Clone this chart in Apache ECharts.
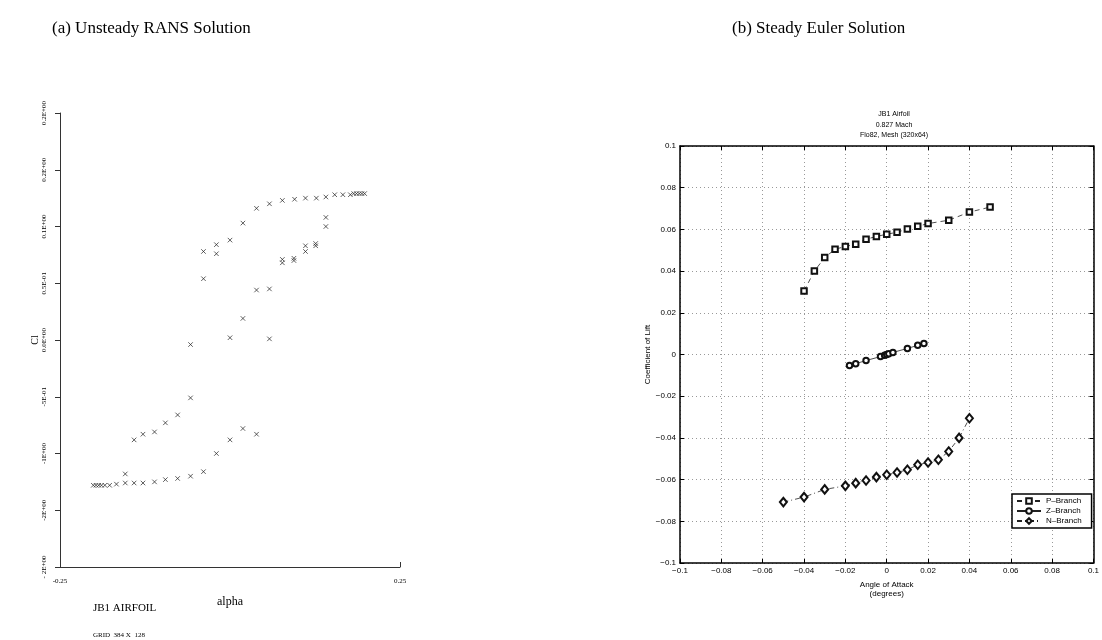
<!DOCTYPE html>
<html>
<head>
<meta charset="utf-8">
<script src="https://cdn.jsdelivr.net/npm/echarts@6/dist/echarts.min.js"></script>
<style>
  body { margin: 0; background: #fff; }
  #chart { width: 1102px; height: 640px; }
</style>
</head>
<body>
<div id="chart"></div>
<script>
// (a) unsteady RANS: alpha vs Cl
const ransAlpha = [
  0.039, 0.058, 0.077, 0.095, 0.111, 0.127, 0.141, 0.154, 0.166, 0.177, 0.182, 0.186, 0.190, 0.194, 0.198,
  0.019, 0.000, -0.020, -0.020, -0.039, -0.039, -0.058, 0.000, 0.058,
  -0.058, -0.077, -0.095, -0.111, -0.128, -0.141,
  -0.039, -0.058, -0.077, -0.095, -0.111, -0.128, -0.141, -0.154, -0.154, -0.167, -0.177, -0.184, -0.189, -0.193, -0.197, -0.201,
  -0.020, 0.000, 0.019, 0.039, 0.019, 0.039, 0.058, 0.077, 0.077, 0.094, 0.094, 0.111, 0.111, 0.126, 0.126, 0.141, 0.141
];
const ransCl = [
  0.116, 0.120, 0.123, 0.124, 0.125, 0.125, 0.126, 0.128, 0.128, 0.128, 0.129, 0.129, 0.129, 0.129, 0.129,
  0.103, 0.088, 0.084, 0.076, 0.078, 0.054, -0.004, 0.002, 0.001,
  -0.051, -0.066, -0.073, -0.081, -0.083, -0.088,
  -0.116, -0.120, -0.122, -0.123, -0.125, -0.126, -0.126, -0.126, -0.118, -0.127, -0.128, -0.128, -0.128, -0.128, -0.128, -0.128,
  -0.100, -0.088, -0.078, -0.083, 0.019, 0.044, 0.045, 0.071, 0.068, 0.072, 0.070, 0.083, 0.078, 0.085, 0.083, 0.108, 0.100
];
const ransXTicks = [-0.25, 0.25];
const ransYLabels = ['- 2E+00', '-2E+00', '-1E+00', '-5E-01', '0.0E+00', '0.5E-01', '0.1E+00', '0.2E+00', '0.2E+00'];

// (b) steady Euler branches
const pAlpha = [-0.04, -0.035, -0.03, -0.025, -0.02, -0.015, -0.01, -0.005, 0, 0.005, 0.01, 0.015, 0.02, 0.03, 0.04, 0.05];
const pCl = [0.0305, 0.040, 0.0465, 0.0505, 0.0518, 0.0529, 0.0553, 0.0566, 0.0577, 0.0586, 0.0602, 0.0615, 0.0628, 0.0644, 0.0683, 0.0707];
const zAlpha = [-0.018, -0.015, -0.01, -0.003, -0.001, 0, 0.001, 0.003, 0.01, 0.015, 0.018];
const zCl = [-0.0053, -0.0044, -0.0029, -0.001, -0.0003, 0, 0.0003, 0.001, 0.0029, 0.0044, 0.0053];
const nAlpha = [-0.05, -0.04, -0.03, -0.02, -0.015, -0.01, -0.005, 0, 0.005, 0.01, 0.015, 0.02, 0.025, 0.03, 0.035, 0.04];
const nCl = [-0.0708, -0.0684, -0.0647, -0.063, -0.0617, -0.0604, -0.0588, -0.0577, -0.0566, -0.0553, -0.0529, -0.0518, -0.0505, -0.0465, -0.040, -0.0306];

const zip = (xs, ys) => xs.map((x, i) => [x, ys[i]]);
const serif = '"Liberation Serif", "DejaVu Serif", serif';
const sans = '"Liberation Sans", Arial, sans-serif';
const mFmt = (v) => (Math.abs(v) < 1e-9 ? '0' : String(+v.toFixed(2)).replace('-', '\u2212'));

const chart = echarts.init(document.getElementById('chart'));

// matlab style box axes for panel (b)
const boxLine = { show: true, onZero: false, lineStyle: { color: '#000', width: 1.5 } };
const gridDots = { show: true, lineStyle: { color: '#999', width: 1, type: [1, 3] } };
const capStyle = { fontFamily: serif, fontSize: 17, fontWeight: 'normal', color: '#000' };

chart.setOption({
  animation: false,
  title: [
    { text: '(a) Unsteady RANS Solution', left: 47, top: 15, textStyle: capStyle },
    { text: '(b) Steady Euler Solution', left: 727, top: 15, textStyle: capStyle },
    { text: 'JB1 AIRFOIL', left: 88, top: 598, textStyle: { fontFamily: serif, fontSize: 11, fontWeight: 'normal', color: '#000' } },
    { text: 'GRID  384 X  128', left: 88, top: 627, textStyle: { fontFamily: serif, fontSize: 7, fontWeight: 'normal', color: '#000' } },
    {
      text: 'JB1 Airfoil\n0.827 Mach\nFlo82, Mesh (320x64)', left: 889, top: 104, textAlign: 'center',
      textStyle: { fontFamily: sans, fontSize: 7, fontWeight: 'normal', color: '#000', lineHeight: 10.5, align: 'center' }
    }
  ],
  grid: [
    { left: 60, top: 113, width: 340, height: 454 },
    { left: 680, top: 146, width: 418, height: 417 }
  ],
  legend: {
    data: ['P\u2013Branch', 'Z\u2013Branch', 'N\u2013Branch'],
    orient: 'vertical', left: 1012, top: 494,
    backgroundColor: '#fff', borderColor: '#000', borderWidth: 1.5, borderRadius: 0,
    padding: [3, 10, 3, 4], itemGap: 2, itemWidth: 24, itemHeight: 7,
    textStyle: { fontFamily: sans, fontSize: 8, color: '#000' }
  },
  xAxis: [
    {
      gridIndex: 0, type: 'value', min: -0.25, max: 0.25,
      name: 'alpha', nameLocation: 'middle', nameGap: 29,
      nameTextStyle: { fontFamily: serif, fontSize: 12, color: '#000' },
      axisLine: { onZero: false, lineStyle: { color: '#333', width: 1 } },
      axisTick: { show: true, inside: true, length: 5, customValues: ransXTicks, lineStyle: { color: '#333' } },
      axisLabel: { customValues: ransXTicks, margin: 11, fontFamily: serif, fontSize: 7, color: '#000' },
      splitLine: { show: false }
    },
    {
      gridIndex: 1, type: 'value', min: -0.1, max: 0.1, interval: 0.02,
      name: 'Angle of Attack\n(degrees)', nameLocation: 'middle', nameGap: 13,
      nameTextStyle: { fontFamily: sans, fontSize: 8, color: '#000', lineHeight: 9.5, verticalAlign: 'top' },
      axisLine: boxLine,
      axisTick: { inside: true, length: 4, lineStyle: { color: '#000' } },
      axisLabel: { formatter: mFmt, margin: 4, fontFamily: sans, fontSize: 8, color: '#000' },
      splitLine: gridDots
    },
    {
      gridIndex: 1, type: 'value', position: 'top', min: -0.1, max: 0.1, interval: 0.02,
      axisLine: boxLine,
      axisTick: { inside: true, length: 4, lineStyle: { color: '#000' } },
      axisLabel: { show: false }, splitLine: { show: false }
    }
  ],
  yAxis: [
    {
      gridIndex: 0, type: 'value', min: -0.2, max: 0.2, interval: 0.05,
      name: 'Cl', nameLocation: 'middle', nameGap: 17, nameRotate: 90,
      nameTextStyle: { fontFamily: serif, fontSize: 10, color: '#000' },
      axisLine: { onZero: false, lineStyle: { color: '#333', width: 1 } },
      axisTick: { show: true, length: 5, lineStyle: { color: '#333' } },
      axisLabel: {
        rotate: 90, margin: 12, fontFamily: serif, fontSize: 7, color: '#000',
        formatter: (v) => ransYLabels[Math.round((v + 0.2) / 0.05)]
      },
      splitLine: { show: false }
    },
    {
      gridIndex: 1, type: 'value', min: -0.1, max: 0.1, interval: 0.02,
      name: 'Coefficient of Lift', nameLocation: 'middle', nameGap: 26,
      nameTextStyle: { fontFamily: sans, fontSize: 8, color: '#000' },
      axisLine: boxLine,
      axisTick: { inside: true, length: 4, lineStyle: { color: '#000' } },
      axisLabel: { formatter: mFmt, margin: 4, fontFamily: sans, fontSize: 8, color: '#000' },
      splitLine: gridDots
    },
    {
      gridIndex: 1, type: 'value', position: 'right', min: -0.1, max: 0.1, interval: 0.02,
      axisLine: boxLine,
      axisTick: { inside: true, length: 4, lineStyle: { color: '#000' } },
      axisLabel: { show: false }, splitLine: { show: false }
    }
  ],
  series: [
    {
      type: 'scatter', xAxisIndex: 0, yAxisIndex: 0,
      symbol: 'path://M0,0L10,10M10,0L0,10', symbolSize: 4.5,
      itemStyle: { color: 'none', borderColor: '#222', borderWidth: 0.9 },
      data: zip(ransAlpha, ransCl)
    },
    {
      name: 'P\u2013Branch', type: 'line', xAxisIndex: 1, yAxisIndex: 1,
      symbol: 'emptyRect', symbolSize: 5.5,
      lineStyle: { color: '#222', width: 0.8, type: [5, 4] },
      itemStyle: { color: '#111', borderWidth: 0.7 },
      data: zip(pAlpha, pCl)
    },
    {
      name: 'Z\u2013Branch', type: 'line', xAxisIndex: 1, yAxisIndex: 1,
      symbol: 'emptyCircle', symbolSize: 5.5,
      lineStyle: { color: '#222', width: 0.8 },
      itemStyle: { color: '#111', borderWidth: 0.7 },
      data: zip(zAlpha, zCl)
    },
    {
      name: 'N\u2013Branch', type: 'line', xAxisIndex: 1, yAxisIndex: 1,
      symbol: 'emptyDiamond', symbolSize: [7, 8.5],
      lineStyle: { color: '#222', width: 0.8, type: [5, 3, 1, 3] },
      itemStyle: { color: '#111', borderWidth: 0.7 },
      data: zip(nAlpha, nCl)
    }
  ]
});
</script>
</body>
</html>
